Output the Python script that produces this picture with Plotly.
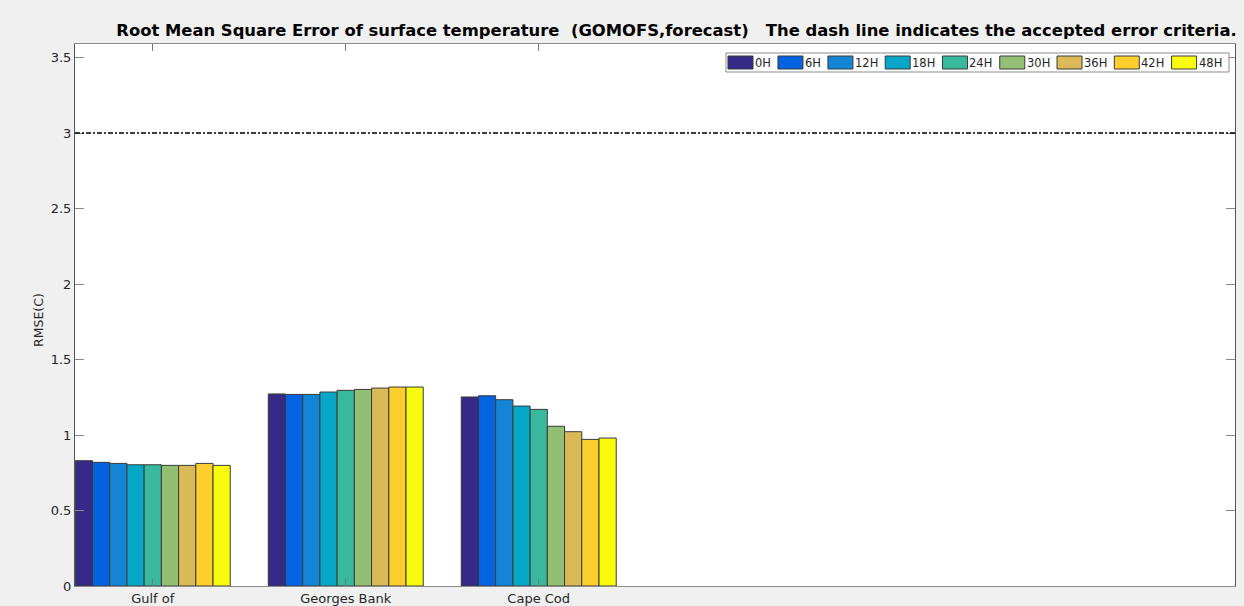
import plotly.graph_objects as go

categories = ["Gulf of", "Georges Bank", "Cape Cod"]
series_names = ["0H", "6H", "12H", "18H", "24H", "30H", "36H", "42H", "48H"]
gulf_of = [0.830, 0.819, 0.812, 0.803, 0.803, 0.799, 0.799, 0.812, 0.799]
georges_bank = [1.272, 1.269, 1.269, 1.285, 1.296, 1.302, 1.311, 1.318, 1.318]
cape_cod = [1.252, 1.260, 1.234, 1.192, 1.170, 1.058, 1.022, 0.971, 0.980]
colors = ["#352a87", "#0363e1", "#1485d4", "#06a7c6", "#38b99e",
          "#92bf73", "#d9ba56", "#fcce2e", "#f9fb0e"]
criteria = 3.0
y_ticks = [0, 0.5, 1, 1.5, 2, 2.5, 3, 3.5]
y_tick_text = ["0", "0.5", "1", "1.5", "2", "2.5", "3", "3.5"]

W, H = 1244, 606
PL, PR, PT, PB = 75, 1235, 44, 586
font_family = "DejaVu Sans"


def px_x(px):
    return (px - PL) / (PR - PL)


def px_y(py):
    return (PB - py) / (PB - PT)


x_pos = list(range(len(categories)))
fig = go.Figure()
for i, name in enumerate(series_names):
    vals = [gulf_of[i], georges_bank[i], cape_cod[i]]
    fig.add_trace(go.Bar(
        x=x_pos, y=vals, name=name, showlegend=False,
        marker=dict(color=colors[i], line=dict(color="#3a3a3a", width=1)),
    ))

fig.add_shape(type="line", xref="paper", x0=0, x1=1, yref="y", y0=criteria, y1=criteria,
              line=dict(color="black", width=1.5, dash="5px,2px,2px,2px"))

# legend box drawn as in the original (wide swatches)
LEG_FS = 11.5
char_w = {"H": 0.752}
def text_w(s):
    return sum(char_w.get(c, 0.636) for c in s) * LEG_FS

legend_left, legend_top, legend_bot = 726, 53, 72
cur = legend_left + 2
shapes = []
annotations = []
for name, col in zip(series_names, colors):
    shapes.append(dict(type="rect", xref="paper", yref="paper",
                       x0=px_x(cur), x1=px_x(cur + 25), y0=px_y(69), y1=px_y(56),
                       fillcolor=col, line=dict(color="#3a3a3a", width=1), layer="above"))
    annotations.append(dict(xref="paper", yref="paper", x=px_x(cur + 27), y=px_y(62.5),
                            text=name, showarrow=False, xanchor="left", yanchor="middle",
                            xshift=-1, borderpad=0,
                            font=dict(family=font_family, size=LEG_FS, color="#262626")))
    cur += 25 + 4 + text_w(name) + 5
legend_right = max(cur - 2, 1229)
fig.add_shape(type="rect", xref="paper", yref="paper",
              x0=px_x(legend_left), x1=px_x(legend_right), y0=px_y(legend_bot), y1=px_y(legend_top),
              fillcolor="white", line=dict(color="#8c8c8c", width=1), layer="above")
for s in shapes:
    fig.add_shape(**s)

annotations.append(dict(xref="paper", yref="paper", x=px_x(38), y=px_y(320),
                        text="RMSE(C)", textangle=-90, showarrow=False,
                        xanchor="center", yanchor="middle",
                        font=dict(family=font_family, size=12.5, color="#262626")))

fig.update_layout(
    width=W, height=H,
    paper_bgcolor="#f0f0f0", plot_bgcolor="white",
    margin=dict(l=PL, r=W - PR, t=PT, b=H - PB, autoexpand=False),
    barmode="group", bargap=0.197, bargroupgap=0,
    showlegend=False,
    font=dict(family=font_family, size=13, color="#262626"),
    title=dict(
        text="<b>Root Mean Square Error of surface temperature  (GOMOFS,forecast)   The dash line indicates the accepted error criteria.</b>",
        xref="paper", x=px_x(676.5), xanchor="center", y=1 - 30 / H, yanchor="middle",
        font=dict(family=font_family, size=16.4, color="black"),
    ),
    annotations=annotations,
    xaxis=dict(
        range=[-0.403, 5.608], tickvals=x_pos, ticktext=categories,
        showline=True, linecolor="#8a8a8a", linewidth=1, mirror="allticks",
        ticks="inside", ticklen=7, tickcolor="#777777",
        showgrid=False, zeroline=False, automargin=False,
        tickfont=dict(family=font_family, size=13, color="#262626"),
    ),
    yaxis=dict(
        range=[0, 3.59], tickvals=y_ticks, ticktext=y_tick_text,
        showline=True, linecolor="#555555", linewidth=1, mirror="allticks",
        ticks="inside", ticklen=9, tickcolor="#888888",
        showgrid=False, zeroline=False, automargin=False,
        tickfont=dict(family=font_family, size=13, color="#262626"),
    ),
)

fig.write_html("out.html", config={"displayModeBar": False},
               post_script="document.body.style.margin='0px';document.body.style.overflow='hidden';")
